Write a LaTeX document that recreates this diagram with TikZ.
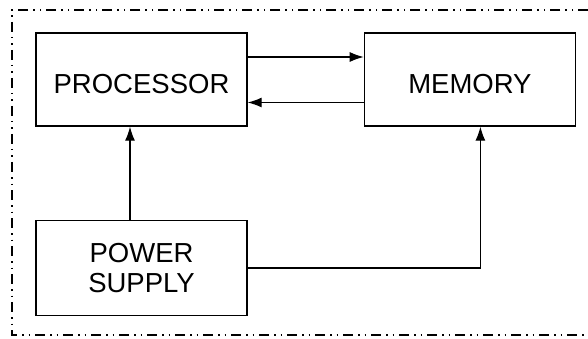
\documentclass[tikz,border=0pt]{standalone}
\usepackage{fontspec}
\setmainfont{Liberation Sans}
\usetikzlibrary{positioning, calc, arrows.meta}

\begin{document}
\begin{tikzpicture}[x=1pt, y=-1pt]
    \tikzset{blocco/.style={draw, line width=1.4pt, minimum width=211pt, minimum height=93pt, inner sep=0pt, align=center, font=\fontsize{27.5}{30}\selectfont},
        bassa/.style={text height=27.5pt, text depth=0pt},
        freccia/.style={line width=1.2pt, -{Latex[length=14pt, width=10pt]}}}
    \useasboundingbox (0,0) rectangle (588,339);
        %disegno cornice
        \draw[line width=1.1pt, dash pattern=on 10pt off 5pt on 1.5pt off 5pt on 1.5pt off 5pt] (588,10) -- (12,10) -- (12,335) -- (588,335);
        %disegno blocchi
        \node[blocco, bassa] (proc) at (141.5,79.5) {PROCESSOR};
        \node[blocco, bassa, right=116pt of proc] (mem) {MEMORY};
        \node[blocco, below=93pt of proc, minimum height=95pt] (pow) {POWER\\SUPPLY};
        %disegno frecce
        \draw[freccia] ([yshift=22.5pt]proc.east) -- ([yshift=22.5pt]mem.west);
        \draw[freccia] ([yshift=-23pt]mem.west) -- ([yshift=-23pt]proc.east);
        \draw[freccia] ([xshift=-11.5pt]pow.north) -- ([xshift=-11.5pt]proc.south);
        \draw[freccia] (pow.east) -| ([xshift=10.5pt]mem.south);
\end{tikzpicture}
\end{document}
